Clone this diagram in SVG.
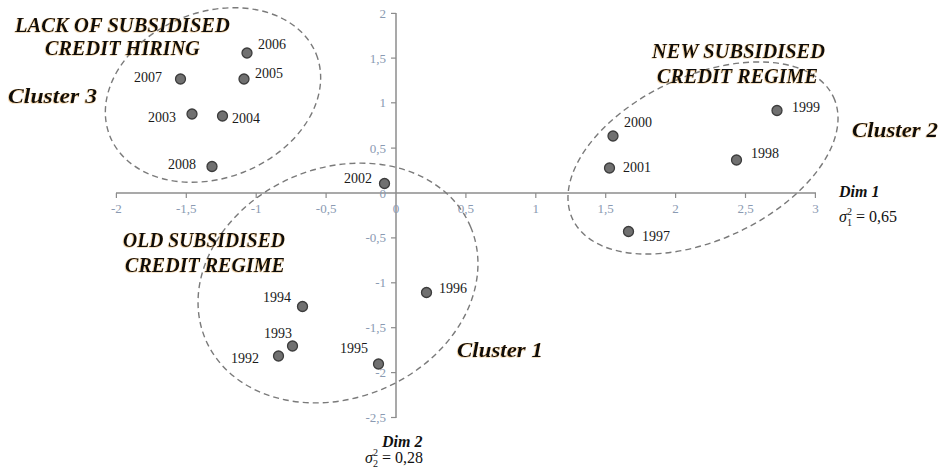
<svg xmlns="http://www.w3.org/2000/svg" width="946" height="469" viewBox="0 0 946 469">
<defs>
<filter id="sh" x="-5%" y="-20%" width="110%" height="140%">
<feDropShadow dx="-0.7" dy="0.5" stdDeviation="0.3" flood-color="#d8902c" flood-opacity="0.55"/>
</filter>
</defs>
<style>
.ax{stroke:#8c8c8c;stroke-width:1.5;fill:none}
.tk{stroke:#8c8c8c;stroke-width:1.2}
.tl{font-family:"Liberation Serif",serif;font-size:13px;fill:#8a9ab2}
.tx{text-anchor:middle}
.ty{text-anchor:end}
.ell{fill:none;stroke:#7a7a7a;stroke-width:1.4;stroke-dasharray:6 4}
.pt{fill:#707070;stroke:#3c3c3c;stroke-width:1.3}
.yr{font-family:"Liberation Serif",serif;font-size:14px;fill:#1a1a1a}
.cl{font-family:"Liberation Serif",serif;font-size:22px;font-weight:bold;font-style:italic;fill:#111}
.tt{font-family:"Liberation Serif",serif;font-size:20px;font-weight:bold;font-style:italic;fill:#111}
.dm{font-family:"Liberation Serif",serif;font-size:16px;font-weight:bold;font-style:italic;fill:#111}
.sg{font-family:"Liberation Serif",serif;font-size:16px;fill:#111}
</style>
<rect width="946" height="469" fill="#fff"/>
<g id="axes">
<line class="ax" x1="116" y1="193" x2="816" y2="193"/>
<line class="ax" x1="396" y1="13" x2="396" y2="418"/>
<g>
<line class="tk" x1="116.4" y1="193" x2="116.4" y2="198"/>
<line class="tk" x1="186.3" y1="193" x2="186.3" y2="198"/>
<line class="tk" x1="256.2" y1="193" x2="256.2" y2="198"/>
<line class="tk" x1="326.1" y1="193" x2="326.1" y2="198"/>
<line class="tk" x1="465.9" y1="193" x2="465.9" y2="198"/>
<line class="tk" x1="535.8" y1="193" x2="535.8" y2="198"/>
<line class="tk" x1="605.7" y1="193" x2="605.7" y2="198"/>
<line class="tk" x1="675.6" y1="193" x2="675.6" y2="198"/>
<line class="tk" x1="745.5" y1="193" x2="745.5" y2="198"/>
<line class="tk" x1="815.4" y1="193" x2="815.4" y2="198"/>
<line class="tk" x1="391" y1="13.4" x2="396" y2="13.4"/>
<line class="tk" x1="391" y1="58.1" x2="396" y2="58.1"/>
<line class="tk" x1="391" y1="102.8" x2="396" y2="102.8"/>
<line class="tk" x1="391" y1="148.1" x2="396" y2="148.1"/>
<line class="tk" x1="391" y1="237.9" x2="396" y2="237.9"/>
<line class="tk" x1="391" y1="282.8" x2="396" y2="282.8"/>
<line class="tk" x1="391" y1="327.7" x2="396" y2="327.7"/>
<line class="tk" x1="391" y1="372.6" x2="396" y2="372.6"/>
<line class="tk" x1="391" y1="417.5" x2="396" y2="417.5"/>
</g>
<g class="tl tx">
<text x="116.4" y="213">-2</text>
<text x="186.3" y="213">-1,5</text>
<text x="256.2" y="213">-1</text>
<text x="326.1" y="213">-0,5</text>
<text x="396" y="213">0</text>
<text x="465.9" y="213">0,5</text>
<text x="535.8" y="213">1</text>
<text x="605.7" y="213">1,5</text>
<text x="675.6" y="213">2</text>
<text x="745.5" y="213">2,5</text>
<text x="815.4" y="213">3</text>
</g>
<g class="tl ty">
<text x="386" y="18">2</text>
<text x="386" y="62.6">1,5</text>
<text x="386" y="107.3">1</text>
<text x="386" y="152.6">0,5</text>
<text x="386" y="197.5">0</text>
<text x="386" y="242.4">-0,5</text>
<text x="386" y="287.3">-1</text>
<text x="386" y="332.2">-1,5</text>
<text x="386" y="377.1">-2</text>
<text x="386" y="422">-2,5</text>
</g>
</g>
<g id="connectors">
<ellipse class="ell" cx="213" cy="95" rx="111" ry="83" transform="rotate(-21.5 213 95)"/>
<ellipse class="ell" cx="338" cy="283" rx="144" ry="115" transform="rotate(-23 338 283)"/>
<ellipse class="ell" cx="703" cy="158" rx="144" ry="82" transform="rotate(-25 703 158)"/>
</g>
<g id="cluster3">
<text class="tt" x="15" y="32" textLength="215" lengthAdjust="spacingAndGlyphs" filter="url(#sh)">LACK OF SUBSIDISED</text>
<text class="tt" x="45" y="55" textLength="155" lengthAdjust="spacingAndGlyphs" filter="url(#sh)">CREDIT HIRING</text>
<text class="cl" x="8" y="103" textLength="89" lengthAdjust="spacingAndGlyphs" filter="url(#sh)">Cluster 3</text>
</g>
<g id="cluster2">
<text class="tt" x="652" y="58" textLength="173" lengthAdjust="spacingAndGlyphs" filter="url(#sh)">NEW SUBSIDISED</text>
<text class="tt" x="657" y="83" textLength="161" lengthAdjust="spacingAndGlyphs" filter="url(#sh)">CREDIT REGIME</text>
<text class="cl" x="852" y="137" textLength="86" lengthAdjust="spacingAndGlyphs" filter="url(#sh)">Cluster 2</text>
</g>
<g id="cluster1">
<text class="tt" x="123" y="247" textLength="162" lengthAdjust="spacingAndGlyphs" filter="url(#sh)">OLD SUBSIDISED</text>
<text class="tt" x="125" y="272" textLength="160" lengthAdjust="spacingAndGlyphs" filter="url(#sh)">CREDIT REGIME</text>
<text class="cl" x="457" y="357" textLength="86" lengthAdjust="spacingAndGlyphs" filter="url(#sh)">Cluster 1</text>
</g>
<g id="p2006"><circle class="pt" cx="247" cy="53" r="5"/><text class="yr" x="258" y="49">2006</text></g>
<g id="p2005"><circle class="pt" cx="244" cy="79" r="5"/><text class="yr" x="255" y="78">2005</text></g>
<g id="p2007"><circle class="pt" cx="180.5" cy="79" r="5"/><text class="yr" x="134" y="82">2007</text></g>
<g id="p2003"><circle class="pt" cx="192" cy="114" r="5"/><text class="yr" x="148" y="122">2003</text></g>
<g id="p2004"><circle class="pt" cx="222.5" cy="116" r="5"/><text class="yr" x="232" y="123">2004</text></g>
<g id="p2008"><circle class="pt" cx="212" cy="166.5" r="5"/><text class="yr" x="168" y="169">2008</text></g>
<g id="p2002"><circle class="pt" cx="384.5" cy="183.5" r="5"/><text class="yr" x="344" y="183">2002</text></g>
<g id="p2000"><circle class="pt" cx="613" cy="136" r="5"/><text class="yr" x="624" y="127">2000</text></g>
<g id="p2001"><circle class="pt" cx="609.5" cy="168" r="5"/><text class="yr" x="623" y="172">2001</text></g>
<g id="p1999"><circle class="pt" cx="777" cy="110.5" r="5"/><text class="yr" x="792" y="112">1999</text></g>
<g id="p1998"><circle class="pt" cx="736.5" cy="160" r="5"/><text class="yr" x="751" y="158">1998</text></g>
<g id="p1997"><circle class="pt" cx="628.5" cy="231.5" r="5"/><text class="yr" x="642" y="241">1997</text></g>
<g id="p1996"><circle class="pt" cx="426.5" cy="292.5" r="5"/><text class="yr" x="439" y="293">1996</text></g>
<g id="p1994"><circle class="pt" cx="302.5" cy="306.5" r="5"/><text class="yr" x="263" y="302">1994</text></g>
<g id="p1993"><circle class="pt" cx="292.5" cy="346" r="5"/><text class="yr" x="264" y="338">1993</text></g>
<g id="p1992"><circle class="pt" cx="278.5" cy="356" r="5"/><text class="yr" x="231" y="363">1992</text></g>
<g id="p1995"><circle class="pt" cx="378.5" cy="364" r="5"/><text class="yr" x="340" y="353">1995</text></g>
<g id="dim1">
<text class="dm" x="839" y="197">Dim 1</text>
<text class="sg" x="839" y="222"><tspan font-style="italic">σ</tspan><tspan font-size="10" dy="-7">2</tspan><tspan font-size="10" dx="-5" dy="11">1</tspan><tspan dy="-4"> = 0,65</tspan></text>
</g>
<g id="dim2">
<text class="dm" x="382" y="447">Dim 2</text>
<text class="sg" x="365" y="463"><tspan font-style="italic">σ</tspan><tspan font-size="10" dy="-7">2</tspan><tspan font-size="10" dx="-5" dy="11">2</tspan><tspan dy="-4"> = 0,28</tspan></text>
</g>
</svg>
